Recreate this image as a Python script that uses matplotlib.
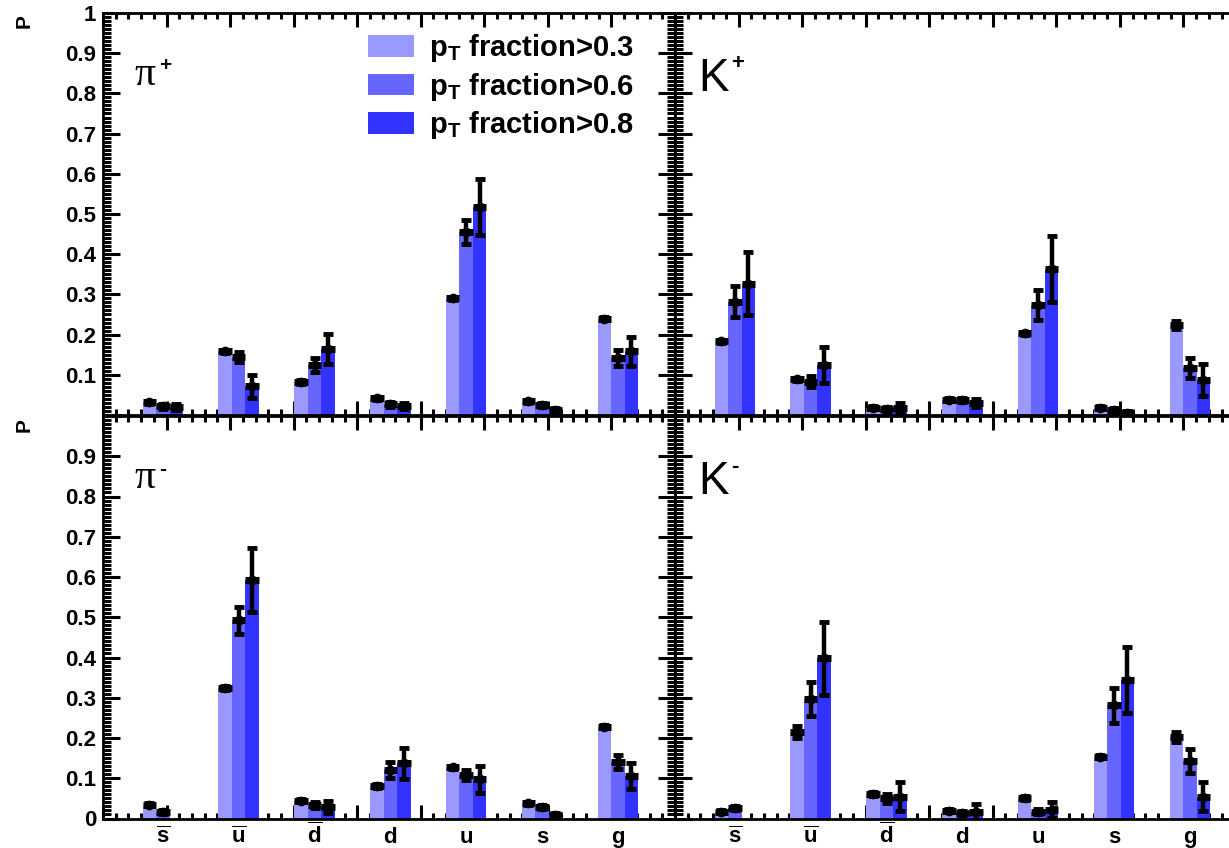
import matplotlib
matplotlib.use("Agg")
import matplotlib.pyplot as plt
import numpy as np

plt.rcParams["font.family"] = ["Liberation Sans", "DejaVu Sans"]
plt.rcParams["font.weight"] = "bold"
plt.rcParams["mathtext.fontset"] = "custom"
plt.rcParams["mathtext.rm"] = "Liberation Sans:bold"
plt.rcParams["mathtext.it"] = "Liberation Sans:italic:bold"
plt.rcParams["mathtext.bf"] = "Liberation Sans:bold"

# parton categories (x axis)
categories = [r"$\overline{\mathrm{s}}$", r"$\overline{\mathrm{u}}$", r"$\overline{\mathrm{d}}$",
              "d", "u", "s", "g"]
legend_labels = [r"$\mathrm{p_{T}}$ fraction>0.3",
                 r"$\mathrm{p_{T}}$ fraction>0.6",
                 r"$\mathrm{p_{T}}$ fraction>0.8"]

# rows: pT fraction > 0.3, > 0.6, > 0.8
pi_plus = [[0.032, 0.158, 0.082, 0.042, 0.290, 0.034, 0.240],
           [0.022, 0.145, 0.125, 0.027, 0.455, 0.024, 0.141],
           [0.020, 0.071, 0.164, 0.022, 0.517, 0.012, 0.158]]
pi_plus_err = [[0.004, 0.004, 0.004, 0.004, 0.004, 0.004, 0.004],
               [0.006, 0.012, 0.018, 0.006, 0.030, 0.005, 0.020],
               [0.008, 0.028, 0.038, 0.008, 0.070, 0.006, 0.035]]

k_plus = [[0.183, 0.089, 0.018, 0.038, 0.203, 0.018, 0.224],
          [0.282, 0.083, 0.014, 0.037, 0.273, 0.012, 0.117],
          [0.327, 0.125, 0.018, 0.030, 0.364, 0.006, 0.088]]
k_plus_err = [[0.004, 0.004, 0.004, 0.004, 0.004, 0.004, 0.010],
              [0.038, 0.014, 0.006, 0.005, 0.037, 0.005, 0.025],
              [0.078, 0.045, 0.012, 0.010, 0.082, 0.005, 0.040]]

pi_minus = [[0.034, 0.324, 0.044, 0.081, 0.127, 0.038, 0.228],
            [0.016, 0.492, 0.034, 0.121, 0.108, 0.029, 0.141],
            [np.nan, 0.593, 0.029, 0.137, 0.097, 0.009, 0.106]]
pi_minus_err = [[0.004, 0.004, 0.004, 0.004, 0.004, 0.004, 0.004],
                [0.005, 0.034, 0.008, 0.020, 0.012, 0.005, 0.018],
                [np.nan, 0.079, 0.015, 0.039, 0.033, 0.005, 0.033]]

k_minus = [[0.017, 0.214, 0.061, 0.019, 0.052, 0.154, 0.203],
           [0.025, 0.297, 0.050, 0.013, 0.017, 0.281, 0.143],
           [np.nan, 0.398, 0.054, 0.016, 0.021, 0.344, 0.054]]
k_minus_err = [[0.004, 0.015, 0.005, 0.004, 0.005, 0.004, 0.012],
               [0.005, 0.043, 0.012, 0.005, 0.006, 0.044, 0.029],
               [np.nan, 0.090, 0.036, 0.020, 0.020, 0.081, 0.036]]

colors = ["#9999ff", "#6666ff", "#3333ff"]

W, H = 1229, 848
fig = plt.figure(figsize=(W / 100, H / 100), dpi=100)


def px_axes(left, top, right, bottom):
    return fig.add_axes([left / W, 1 - bottom / H, (right - left) / W, (bottom - top) / H])


xlim = (-0.79, 6.755)
bw = 0.178


def draw_panel(ax, vals, errs, ylim, bottom_row, left_col):
    x = np.arange(len(categories))
    bars = []
    for k in range(3):
        xs = x + (k - 1) * bw
        v = np.array(vals[k])
        e = np.array(errs[k])
        b = ax.bar(xs, v, width=bw, color=colors[k], linewidth=0, zorder=2)
        bars.append(b)
        ax.errorbar(xs, v, xerr=bw / 2, fmt="o", ms=6, color="k", elinewidth=5,
                    capsize=0, zorder=3)
        ax.errorbar(xs, v, yerr=e, fmt="none", ecolor="k", elinewidth=3.2,
                    capsize=3.5, capthick=3.5, zorder=3)
    ax.set_xlim(*xlim)
    ax.set_ylim(*ylim)
    ax.set_xticks(np.linspace(xlim[0], xlim[1], 10))
    ax.set_xticks(np.linspace(xlim[0], xlim[1], 46), minor=True)
    ax.set_yticks(np.arange(0, 1.01, 0.1))
    ax.set_yticks(np.arange(0, 1.001, 0.01), minor=True)
    ax.tick_params(which="both", direction="in", top=True, right=True, width=2.2,
                   labelbottom=False)
    ax.tick_params(axis="y", which="major", length=12)
    ax.tick_params(axis="y", which="minor", length=6)
    ax.tick_params(axis="x", which="major", length=10)
    ax.tick_params(axis="x", which="minor", length=4.5)
    for s in ax.spines.values():
        s.set_linewidth(2)
    if left_col:
        def fmt(v):
            if abs(v) < 1e-9:
                return "0"
            if abs(v - 1) < 1e-9:
                return "1"
            return "%.1f" % v
        if bottom_row:
            labs = [fmt(v) if v < 0.95 else "" for v in np.arange(0, 1.01, 0.1)]
        else:
            labs = [fmt(v) if v > 0.05 else "" for v in np.arange(0, 1.01, 0.1)]
        ax.set_yticklabels(labs, fontsize=16, fontweight="bold")
        ax.tick_params(axis="y", pad=5)
    else:
        ax.set_yticklabels([])
    if bottom_row:
        tr = ax.get_xaxis_transform()
        for i, c in enumerate(categories):
            ax.text(i, -0.06, c, transform=tr, ha="center", va="baseline", fontsize=16,
                    fontweight="bold")
    return bars


ax_tl = px_axes(103, 13, 675, 415)
ax_tr = px_axes(675, 13, 1247, 415)
ax_bl = px_axes(103, 416, 675, 818.5)
ax_br = px_axes(675, 416, 1247, 818.5)

bars = draw_panel(ax_tl, pi_plus, pi_plus_err, (0.0052, 1.0), False, True)
draw_panel(ax_tr, k_plus, k_plus_err, (0.0052, 1.0), False, False)
draw_panel(ax_bl, pi_minus, pi_minus_err, (0.0, 1.0), True, True)
draw_panel(ax_br, k_minus, k_minus_err, (0.0, 1.0), True, False)

ax_tl.legend(bars, legend_labels, loc="upper left", bbox_to_anchor=(0.463, 0.952),
             frameon=False, fontsize=21, handlelength=1.58, handleheight=0.75,
             handletextpad=0.5, labelspacing=0.22, borderpad=0, borderaxespad=0)


def particle_label(ax, base, sign, serif):
    if serif:
        ax.text(0.055, 0.82, base, transform=ax.transAxes, fontsize=30,
                family="Liberation Serif", fontweight="normal", va="baseline")
        ax.annotate(sign, xy=(0.055, 0.82), xycoords="axes fraction", xytext=(17.5, 10),
                    textcoords="offset points", fontsize=15, fontweight="bold")
    else:
        ax.text(0.04, 0.805, base, transform=ax.transAxes, fontsize=33,
                fontweight="normal", va="baseline")
        ax.annotate(sign, xy=(0.04, 0.805), xycoords="axes fraction", xytext=(24, 16),
                    textcoords="offset points", fontsize=16, fontweight="bold")


particle_label(ax_tl, "\u03c0", "+", True)
particle_label(ax_bl, "\u03c0", "-", True)
particle_label(ax_tr, "K", "+", False)
particle_label(ax_br, "K", "-", False)

fig.text(24 / W, 1 - 21 / H, "P", rotation=90, ha="center", va="center", fontsize=15,
         fontweight="bold")
fig.text(24 / W, 1 - 425 / H, "P", rotation=90, ha="center", va="center", fontsize=15,
         fontweight="bold")

fig.savefig("out.png", dpi=100)
